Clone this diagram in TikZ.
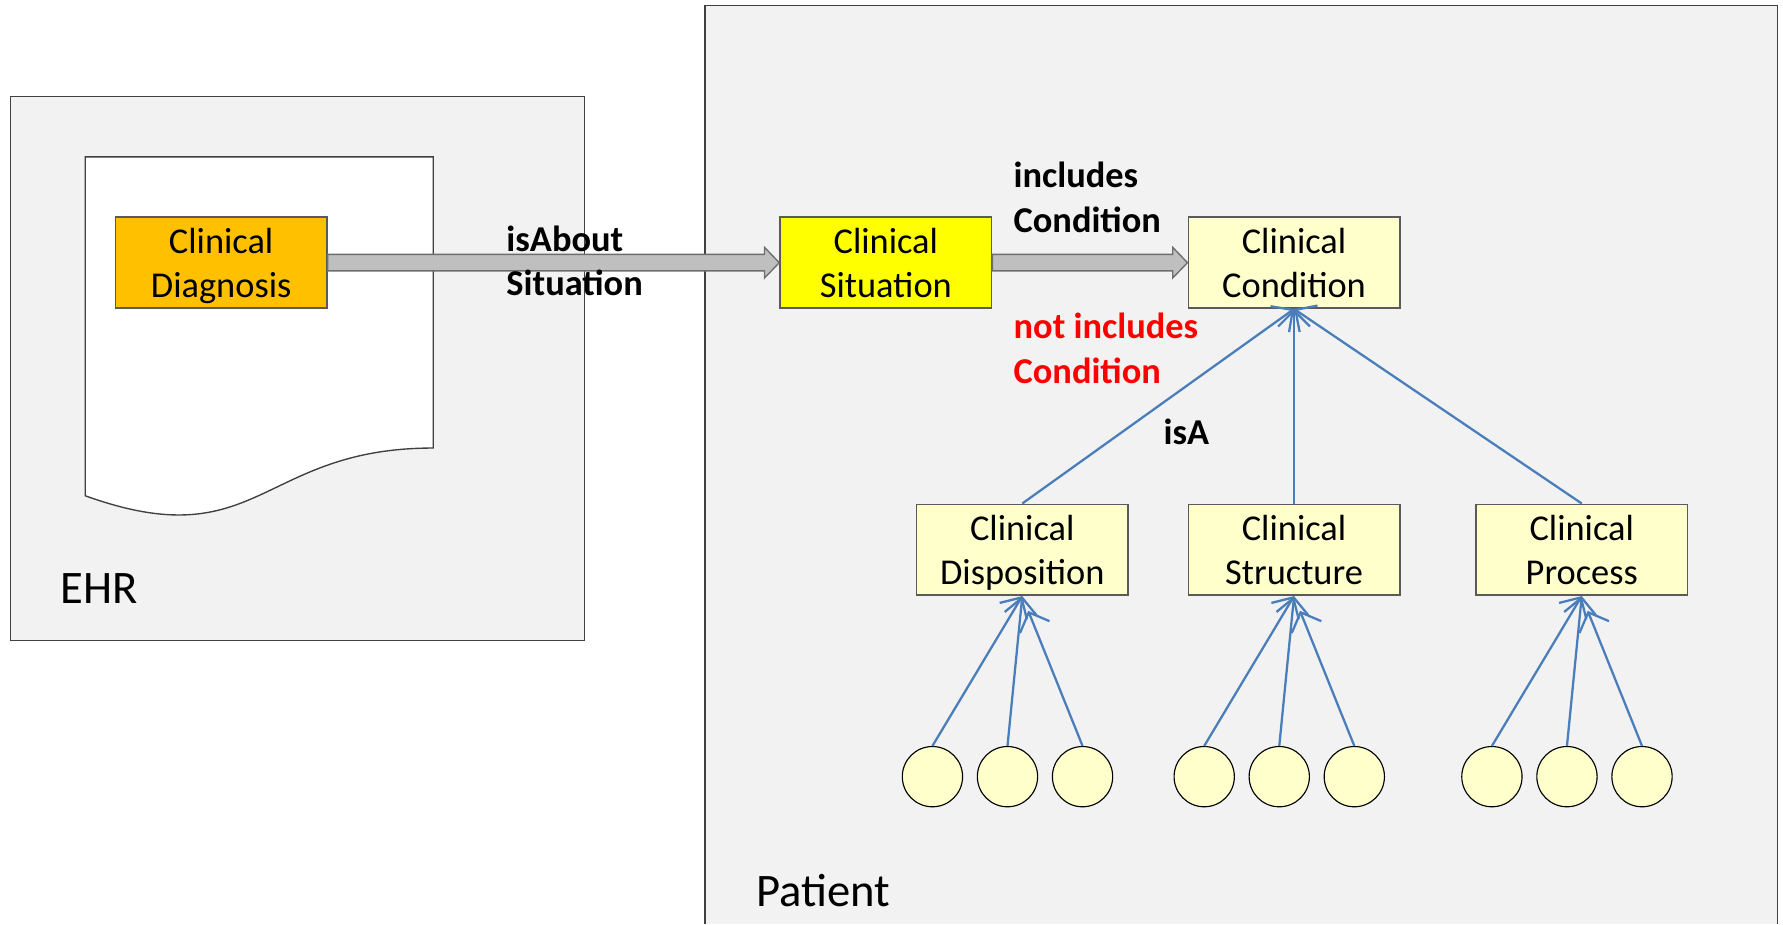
\documentclass[tikz,border=0pt]{standalone}
\usepackage{fontspec}
\setmainfont{Carlito}
\usetikzlibrary{arrows.meta,calc}
\definecolor{panel}{HTML}{F2F2F2}
\definecolor{panelline}{HTML}{404040}
\definecolor{boxline}{HTML}{5A5A5A}
\definecolor{diagfill}{HTML}{FFC000}
\definecolor{sitfill}{HTML}{FFFF00}
\definecolor{condfill}{HTML}{FFFFCC}
\definecolor{arrowfill}{HTML}{BFBFBF}
\definecolor{arrowline}{HTML}{6E6E6E}
\definecolor{isablue}{HTML}{4A7EBB}
\definecolor{redlabel}{HTML}{FF0000}
\begin{document}
\begin{tikzpicture}[x=0.5pt,y=-0.5pt,
  container/.style={fill=panel,draw=panelline,line width=0.6pt},
  conceptbox/.style={draw=boxline,line width=0.7pt,minimum width=93pt,minimum height=40pt,
    inner sep=0pt,align=center,font=\fontsize{16}{19.5}\selectfont},
  instance/.style={circle,draw=black,line width=0.5pt,fill=condfill,minimum size=26.5pt,inner sep=0pt},
  biglabel/.style={anchor=west,inner sep=0pt,font=\fontsize{20.5}{24}\selectfont},
  rellabel/.style={anchor=west,inner sep=0pt,align=left,font=\fontsize{16}{19.5}\selectfont\bfseries},
  isa/.style={draw=isablue,line width=1pt,-{Straight Barb[length=7pt,width=14pt]}},
  bigarrow/.style={fill=arrowfill,draw=arrowline,line width=0.6pt,line join=miter}
]
\useasboundingbox (0,0) rectangle (1568,813);

% containers
\path[container] (9,85) rectangle (514,563);
\fill[panel] (620,5) rectangle (1563,813);
\draw[panelline,line width=0.6pt] (620,813) -- (620,5) -- (1563,5) -- (1563,813);

% document shape
\draw[fill=white,draw=panelline,line width=0.6pt]
  (75,138) -- (381,138) -- (381,394) .. controls (228,394) and (228,491) .. (75,436) -- cycle;

% concept boxes
\node[conceptbox,fill=diagfill] (diag) at (194.5,231) {Clinical\\\smash{Diagnosis}};
\node[conceptbox,fill=sitfill] (sit) at (779,231) {Clinical\\\smash{Situation}};
\node[conceptbox,fill=condfill] (cond) at (1138,231) {Clinical\\\smash{Condition}};
\node[conceptbox,fill=condfill] (disp) at (899,483.5) {Clinical\\\smash{Disposition}};
\node[conceptbox,fill=condfill] (struct) at (1138,483.5) {Clinical\\\smash{Structure}};
\node[conceptbox,fill=condfill] (proc) at (1391,483.5) {Clinical\\\smash{Process}};

% instances
\node[instance] (d1) at (820,683) {};
\node[instance] (d2) at (886,683) {};
\node[instance] (d3) at (952,683) {};
\node[instance] (s1) at (1059,683) {};
\node[instance] (s2) at (1125,683) {};
\node[instance] (s3) at (1191,683) {};
\node[instance] (p1) at (1312,683) {};
\node[instance] (p2) at (1378,683) {};
\node[instance] (p3) at (1444,683) {};

% big gray arrows
\draw[bigarrow] ($(diag.east)+(0,-7.25)$) -- ($(sit.west)+(-13,-7.25)$) -- ($(sit.west)+(-13,-13.5)$)
  -- (sit.west) -- ($(sit.west)+(-13,13.5)$) -- ($(sit.west)+(-13,7.25)$) -- ($(diag.east)+(0,7.25)$) -- cycle;
\draw[bigarrow] ($(sit.east)+(0,-7.25)$) -- ($(cond.west)+(-13,-7.25)$) -- ($(cond.west)+(-13,-13.5)$)
  -- (cond.west) -- ($(cond.west)+(-13,13.5)$) -- ($(cond.west)+(-13,7.25)$) -- ($(sit.east)+(0,7.25)$) -- cycle;

% isA connectors
\draw[isa] (disp.north) -- (cond.south);
\draw[isa] (struct.north) -- (cond.south);
\draw[isa] (proc.north) -- (cond.south);
\draw[isa] (d1.north) -- (disp.south);
\draw[isa] (d2.north) -- (disp.south);
\draw[isa,shorten >=7pt] (d3.north) -- (disp.south);
\draw[isa] (s1.north) -- (struct.south);
\draw[isa] (s2.north) -- (struct.south);
\draw[isa,shorten >=7pt] (s3.north) -- (struct.south);
\draw[isa] (p1.north) -- (proc.south);
\draw[isa] (p2.north) -- (proc.south);
\draw[isa,shorten >=7pt] (p3.north) -- (proc.south);

% labels
\node[biglabel] (ehr) at (53,518) {EHR};
\node[biglabel] (patient) at (665,783) {Patient};
\node[rellabel] (about) at (445,229.5) {isAbout\\Situation};
\node[rellabel] (incl) at (891,173.5) {includes\\Condition};
\node[rellabel,text=redlabel] (notincl) at (891,306.5) {not includes\\Condition};
\node[rellabel] (isalabel) at (1023,380) {isA};
\end{tikzpicture}
\end{document}
